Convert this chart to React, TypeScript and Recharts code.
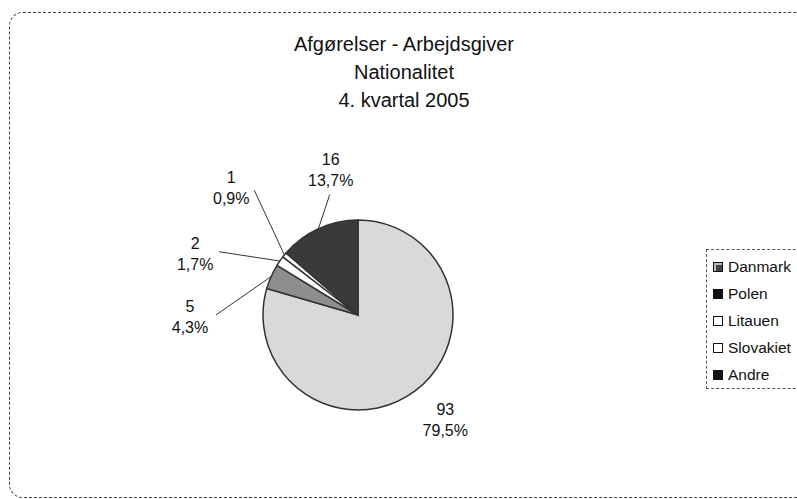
import { PieChart, Pie, Cell, Legend } from "recharts";

const categories = ["Danmark", "Polen", "Litauen", "Slovakiet", "Andre"];
const counts = [93, 5, 2, 1, 16];
const titleLines = ["Afgørelser - Arbejdsgiver", "Nationalitet", "4. kvartal 2005"];

const sliceColors = ["#d9d9d9", "#8e8e8e", "#ffffff", "#ffffff", "#3a3a3a"];

// label placement: compass shift from slice mid-angle, radius, leader end relative to label centre
const labelLayout = [
  { shift: -3, r: 136, line: null as null | [number, number] },
  { shift: -24.5, r: 168, line: [26, -2] as [number, number] },
  { shift: -14, r: 174, line: [24, -2] as [number, number] },
  { shift: 6, r: 180, line: [23, 3] as [number, number] },
  { shift: 14, r: 148, line: [-1, 25] as [number, number] },
];

const total = counts.reduce((a, b) => a + b, 0);
const data = categories.map((name, i) => ({ name, value: counts[i] }));

const RAD = Math.PI / 180;
const FONT = "'Liberation Sans', Arial, sans-serif";

const fmtPct = (v: number) => ((v / total) * 100).toFixed(1).replace(".", ",") + "%";

const renderLabel = (props: any) => {
  const { cx, cy, midAngle, outerRadius, index, value } = props;
  const lay = labelLayout[index];
  const ang = midAngle - lay.shift;
  const lx = cx + lay.r * Math.cos(-ang * RAD);
  const ly = cy + lay.r * Math.sin(-ang * RAD);
  const ex = cx + outerRadius * Math.cos(-midAngle * RAD);
  const ey = cy + outerRadius * Math.sin(-midAngle * RAD);
  return (
    <g key={`lbl-${index}`}>
      {lay.line && (
        <line
          x1={ex}
          y1={ey}
          x2={lx + lay.line[0]}
          y2={ly + lay.line[1]}
          stroke="#333"
          strokeWidth={1}
        />
      )}
      <text
        x={lx}
        y={ly - 10}
        textAnchor="middle"
        dominantBaseline="central"
        fontFamily={FONT}
        fontSize={16}
        fill="#111"
      >
        {value}
      </text>
      <text
        x={lx}
        y={ly + 11}
        textAnchor="middle"
        dominantBaseline="central"
        fontFamily={FONT}
        fontSize={16}
        fill="#111"
      >
        {fmtPct(value)}
      </text>
    </g>
  );
};

const LegendBox = () => (
  <div
    style={{
      width: 100,
      height: 140,
      border: "1px dashed #555",
      boxSizing: "border-box",
      paddingTop: 3,
      fontFamily: FONT,
      fontSize: 15.5,
      color: "#111",
    }}
  >
    {categories.map((c, i) => (
      <div key={c} style={{ display: "flex", alignItems: "center", height: 27 }}>
        <span
          style={{
            display: "inline-block",
            width: 8,
            height: 8,
            marginLeft: 6,
            marginRight: 5,
            border: "1px solid #111",
            background: i === 0 ? "#444" : i === 1 || i === 4 ? "#111" : "#fff",
            boxShadow: i === 0 ? "inset 2px 2px 0 #bbb" : undefined,
          }}
        />
        {c}
      </div>
    ))}
  </div>
);

export default function App() {
  return (
    <div style={{ position: "absolute", left: 0, top: 0, width: 797, height: 499, background: "#fff", overflow: "hidden" }}>
      <div
        style={{
          position: "absolute",
          left: 9,
          top: 12,
          width: 800,
          height: 484,
          border: "1px dashed #444",
          borderRadius: 14,
        }}
      />
      <div
        style={{
          position: "absolute",
          left: 204,
          top: 30,
          width: 400,
          textAlign: "center",
          fontFamily: FONT,
          fontSize: 20,
          lineHeight: "28px",
          color: "#111",
        }}
      >
        {titleLines.map((t) => (
          <div key={t}>{t}</div>
        ))}
      </div>
      <PieChart
        width={797}
        height={499}
        margin={{ top: 0, right: 0, bottom: 0, left: 0 }}
        style={{ position: "absolute", left: 0, top: 0 }}
      >
        <Pie
          data={data}
          dataKey="value"
          nameKey="name"
          cx={358}
          cy={315}
          outerRadius={95}
          startAngle={90}
          endAngle={-270}
          stroke="#333"
          strokeWidth={1.5}
          label={renderLabel}
          labelLine={false}
          isAnimationActive={false}
        >
          {data.map((d, i) => (
            <Cell key={d.name} fill={sliceColors[i]} />
          ))}
        </Pie>
        <Legend
          layout="vertical"
          align="right"
          verticalAlign="middle"
          content={() => <LegendBox />}
          wrapperStyle={{ position: "absolute", left: 706, top: 249, width: 100 }}
        />
      </PieChart>
    </div>
  );
}
